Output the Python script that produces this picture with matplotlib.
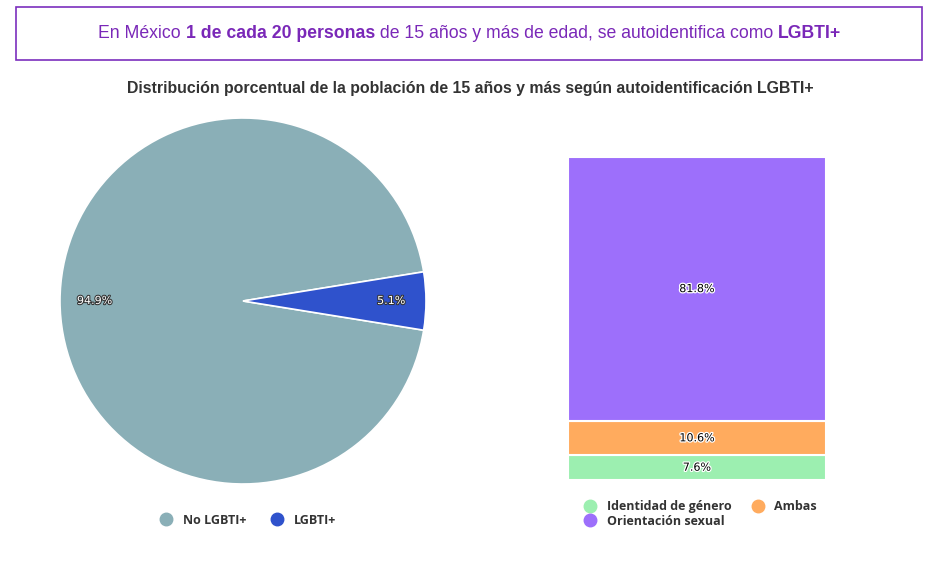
import matplotlib
matplotlib.use("Agg")
import matplotlib.pyplot as plt
import matplotlib.patheffects as pe
from matplotlib.patches import Rectangle
from matplotlib.lines import Line2D

# data
pie_labels = ["No LGBTI+", "LGBTI+"]
pie_values = [94.9, 5.1]
pie_colors = ["#8aafb7", "#2f52cc"]

bar_labels = ["Identidad de género", "Ambas", "Orientación sexual"]
bar_values = [7.6, 10.6, 81.8]
bar_colors = ["#9cefb0", "#ffab5e", "#9d6ffb"]

header_parts = [("En México ", "normal"), ("1 de cada 20 personas", "bold"),
                (" de 15 años y más de edad, se autoidentifica como ", "normal"),
                ("LGBTI+", "bold")]
subtitle = "Distribución porcentual de la población de 15 años y más según autoidentificación LGBTI+"

W, H = 934, 585
fig = plt.figure(figsize=(W / 100, H / 100), dpi=100)
fig.patch.set_facecolor("white")


def px_axes(x0, y0, x1, y1):
    # pixel box (top-left origin) -> figure axes
    return fig.add_axes([x0 / W, 1 - y1 / H, (x1 - x0) / W, (y1 - y0) / H])


# header box
fig.patches.append(Rectangle((16 / W, 1 - 60 / H), 906 / W, 53 / H,
                             transform=fig.transFigure, fill=False,
                             edgecolor="#7b2fbe", linewidth=1.2))

purple = "#7a28b8"
renderer = fig.canvas.get_renderer()
texts = []
for s, w in header_parts:
    t = fig.text(0, 1 - 33 / H, s, fontsize=12.7, fontweight=w, color=purple,
                 family="Liberation Sans", va="center", ha="left")
    texts.append(t)
widths = [t.get_window_extent(renderer).width for t in texts]
x = (470 - sum(widths) / 2)
for t, wd in zip(texts, widths):
    t.set_x(x / W)
    x += wd

fig.text(470 / W, 1 - 88 / H, subtitle, fontsize=11.4, fontweight="bold",
         color="#333333", family="Liberation Sans", ha="center", va="center")

# pie
ax1 = px_axes(60, 118, 426, 484)
start = pie_values[1] * 3.6 / 2
wedges, _, autotexts = ax1.pie(pie_values, colors=pie_colors, startangle=start,
                               autopct="%.1f%%", pctdistance=0.81,
                               wedgeprops=dict(edgecolor="white", linewidth=1.2),
                               textprops=dict(color="white", fontsize=8,
                                              family="DejaVu Sans"))
for t in autotexts:
    t.set_path_effects([pe.withStroke(linewidth=1.5, foreground="#333333")])
ax1.set_xlim(-1, 1)
ax1.set_ylim(-1, 1)
ax1.set_aspect("auto")
ax1.axis("off")

legend_font = dict(family="Open Sans", weight="bold", size=9)

handles = [Line2D([], [], marker="o", linestyle="", markersize=9,
                  markerfacecolor=c, markeredgecolor=c) for c in pie_colors]
fig.legend(handles, pie_labels, loc="center", bbox_to_anchor=(245 / W, 1 - 520 / H),
           ncol=2, frameon=False, handletextpad=0.35, columnspacing=1.5,
           prop=legend_font, labelcolor="#333333")

# stacked bar
ax2 = px_axes(568, 157, 826, 480)
bottom = 0
for v, c in zip(bar_values, bar_colors):
    ax2.bar(0, v, bottom=bottom, width=1, color=c, edgecolor="white", linewidth=1.5)
    t = ax2.text(0, bottom + v / 2, f"{v:.1f}%", ha="center", va="center",
                 fontsize=8, family="DejaVu Sans", color="black")
    t.set_path_effects([pe.withStroke(linewidth=1.8, foreground="white")])
    bottom += v
ax2.set_xlim(-0.5, 0.5)
ax2.set_ylim(0, 100)
ax2.axis("off")

# legend filled column-wise, so reorder to read row-wise like the reference
order = [0, 2, 1]
handles = [Line2D([], [], marker="o", linestyle="", markersize=9,
                  markerfacecolor=bar_colors[i], markeredgecolor=bar_colors[i]) for i in order]
fig.legend(handles, [bar_labels[i] for i in order], loc="upper left",
           bbox_to_anchor=(571 / W, 1 - 494 / H),
           ncol=2, frameon=False, handletextpad=0.35, columnspacing=1.1,
           labelspacing=0.12, borderpad=0,
           prop=legend_font, labelcolor="#333333")

fig.savefig("out.png", dpi=100, facecolor="white")
